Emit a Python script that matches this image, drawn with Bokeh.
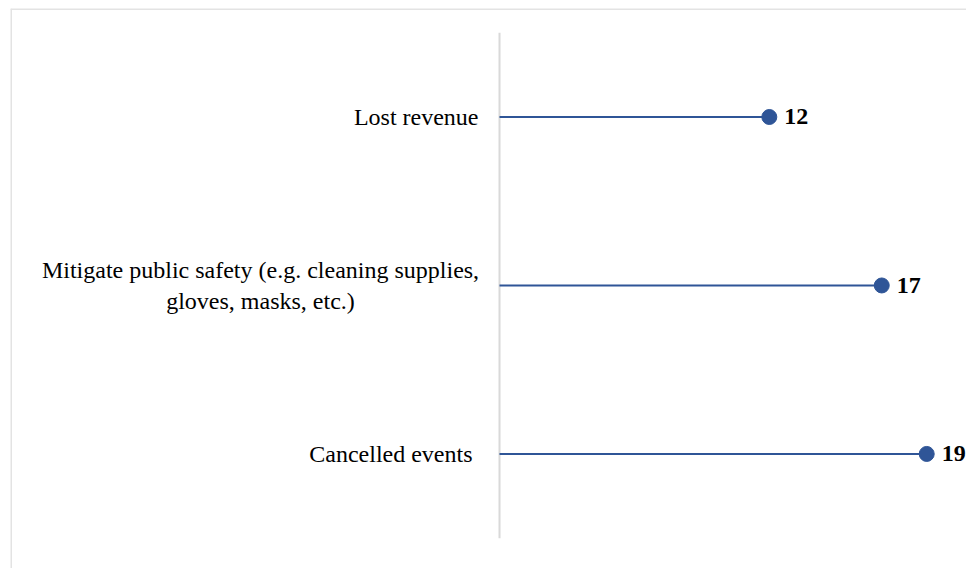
from bokeh.plotting import figure
from bokeh.models import Range1d, ColumnDataSource, Span
from bokeh.core.properties import value
from bokeh.embed import file_html
from bokeh.resources import INLINE

categories = ["Lost revenue",
              "Mitigate public safety (e.g. cleaning supplies,\ngloves, masks, etc.)",
              "Cancelled events "]
values = [12, 17, 19]

# label placement (pixel offsets from the axis line, alignment per label)
label_align = ["right", "center", "right"]
label_xoff = [-21, -239, -21]

idx = list(range(len(categories)))
src = ColumnDataSource(dict(y=idx, v=values, zero=[0] * len(values),
                            cat=categories, lab=[str(v) for v in values],
                            al=label_align, xo=label_xoff))

x0, x1 = -21.75, 20.77
ytop, ybot = -0.644, 2.680
p = figure(width=966, height=568, output_backend="svg", toolbar_location=None,
           x_range=Range1d(x0, x1), y_range=Range1d(ybot, ytop),
           min_border_left=10, min_border_right=0, min_border_top=8, min_border_bottom=0)
p.xaxis.visible = False
p.yaxis.visible = False
p.xgrid.visible = False
p.ygrid.visible = False
p.outline_line_color = None
p.background_fill_color = "white"
p.border_fill_color = "white"

p.add_layout(Span(location=x0, dimension="height", line_color="#e3e3e3", line_width=3))
p.add_layout(Span(location=ytop, dimension="width", line_color="#e3e3e3", line_width=3))

# vertical axis line
p.segment(x0=[0], x1=[0], y0=[-0.5], y1=[len(categories) - 0.5],
          line_color="#d9d9d9", line_width=2)

blue = "#2f5597"
p.segment(x0="zero", x1="v", y0="y", y1="y", source=src, line_color=blue, line_width=2)
p.scatter(x="v", y="y", source=src, size=15, fill_color=blue, line_color=blue)

p.text(x="v", y="y", text="lab", source=src, x_offset=15,
       text_font=value("Liberation Serif"), text_font_size="24px",
       text_font_style="bold", text_baseline="middle", text_align="left",
       text_color="black")

p.text(x="zero", y="y", text="cat", source=src, x_offset="xo", text_align="al",
       text_font=value("Liberation Serif"), text_font_size="24px",
       text_baseline="middle", text_color="black")

open("out.html", "w").write(file_html(p, INLINE))
